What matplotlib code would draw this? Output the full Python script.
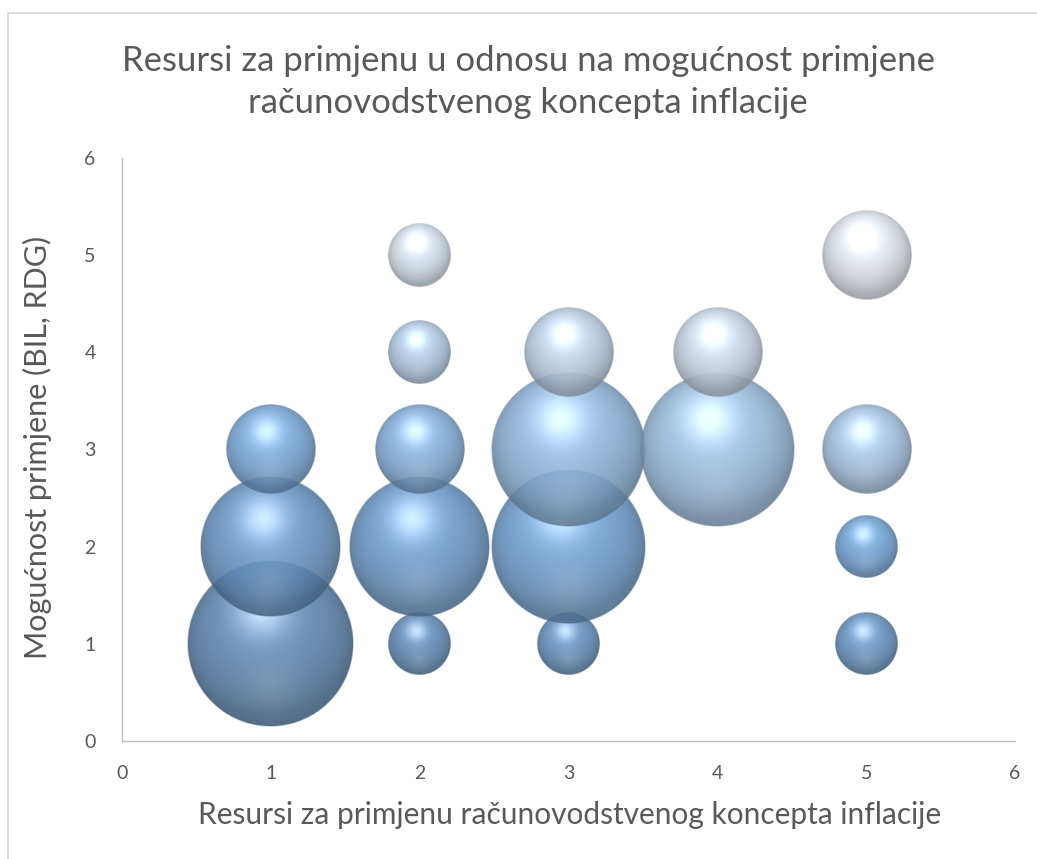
import numpy as np
import matplotlib
matplotlib.use("Agg")
import matplotlib.pyplot as plt
from matplotlib.colors import to_rgb
from matplotlib.patches import Rectangle

# podaci (x = resursi, y = mogućnost primjene, size = broj odgovora)
x_vals = [1, 2, 3, 5, 1, 2, 3, 5, 1, 2, 3, 4, 5, 2, 3, 4, 2, 5]
y_vals = [1, 1, 1, 1, 2, 2, 2, 2, 3, 3, 3, 3, 3, 4, 4, 4, 5, 5]
sizes = [7, 1, 1, 1, 5, 5, 6, 1, 2, 2, 6, 6, 2, 1, 2, 2, 1, 2]

title = "Resursi za primjenu u odnosu na mogućnost primjene\nračunovodstvenog koncepta inflacije"
xlabel = "Resursi za primjenu računovodstvenog koncepta inflacije"
ylabel = "Mogućnost primjene (BIL, RDG)"

plt.rcParams['font.family'] = ['Lato', 'DejaVu Sans']

W, H, DPI = 1037, 859, 100
fig = plt.figure(figsize=(W / DPI, H / DPI), dpi=DPI)
ax = fig.add_axes([122 / W, (H - 741) / H, (1015 - 122) / W, (741 - 158) / H])

ax.set_xlim(0, 6)
ax.set_ylim(0, 6)

# boje od tamnoplave do svijetlosive po redoslijedu točaka
dark = np.array(to_rgb("#5d88b5"))
mid = np.array(to_rgb("#74a8dc"))
light = np.array(to_rgb("#e6ecf4"))


def point_color(i, n):
    t = i / (n - 1)
    if t < 0.45:
        return dark + (mid - dark) * (t / 0.45)
    return mid + (light - mid) * ((t - 0.45) / 0.55)


def sphere(base, n=220, alpha=0.88):
    u = np.linspace(-1, 1, n)
    X, Y = np.meshgrid(u, u)
    R2 = X ** 2 + Y ** 2
    inside = R2 <= 1
    Z = np.sqrt(np.clip(1 - R2, 0, 1))
    L = np.array([-0.12, 0.5, 0.86])
    L = L / np.linalg.norm(L)
    diff = np.clip(X * L[0] + Y * L[1] + Z * L[2], 0, 1)
    # mekani odsjaj
    spec = np.exp(-((X + 0.1) ** 2 + (Y - 0.4) ** 2) / 0.1) * 0.45
    # svjetliji odsjaj pri dnu
    glow = np.exp(-((X + 0.0) ** 2 + (Y + 0.5) ** 2) / 0.1) * 0.12
    rim = 0.8 + 0.2 * Z ** 0.6
    shade = (0.74 + 0.3 * diff) * rim
    img = np.zeros((n, n, 4))
    for c in range(3):
        img[..., c] = np.clip(base[c] * shade + spec * (1.05 - base[c] * 0.6)
                              + glow * (1 - base[c]), 0, 1)
    edge = np.clip((1 - np.sqrt(R2)) * n / 2, 0, 1)
    img[..., 3] = np.where(inside, alpha * edge, 0)
    return img


# pikseli po jedinici podataka
bbox = ax.get_window_extent()
px_x = bbox.width / 6
px_y = bbox.height / 6
r_unit = 31.5  # polumjer u pikselima za veličinu 1

for i, (xv, yv, s) in enumerate(zip(x_vals, y_vals, sizes)):
    r = r_unit * np.sqrt(s)
    rx, ry = r / px_x, r / px_y
    ax.imshow(sphere(point_color(i, len(x_vals))), origin='lower',
              extent=[xv - rx, xv + rx, yv - ry, yv + ry],
              interpolation='bilinear', zorder=2 + i, aspect='auto')

ax.set_xlim(0, 6)
ax.set_ylim(0, 6)
ax.set_aspect('auto')

for side in ['top', 'right']:
    ax.spines[side].set_visible(False)
for side in ['left', 'bottom']:
    ax.spines[side].set_color('#bfbfbf')
    ax.spines[side].set_linewidth(1.0)

ax.set_xticks(range(0, 7))
ax.set_yticks(range(0, 7))
ax.tick_params(length=0, colors='#595959', labelsize=14)
ax.tick_params(axis='x', pad=17)
ax.tick_params(axis='y', pad=19)

fig.text(528 / W, 1 - 82 / H, title, ha='center', va='center', fontsize=25,
         color='#595959', linespacing=1.4)
fig.text(570 / W, 1 - 815 / H, xlabel, ha='center', va='center', fontsize=21.5,
         color='#595959')
fig.text(37 / W, 1 - 447 / H, ylabel, ha='center', va='center', fontsize=22,
         color='#595959', rotation=90)

# okvir grafikona
fig.patches.append(Rectangle((8 / W, -0.1), 1.2, 1 - 13 / H + 0.1,
                             transform=fig.transFigure, fill=False,
                             edgecolor='#d9d9d9', linewidth=1.3))

fig.savefig("out.png", dpi=DPI)
